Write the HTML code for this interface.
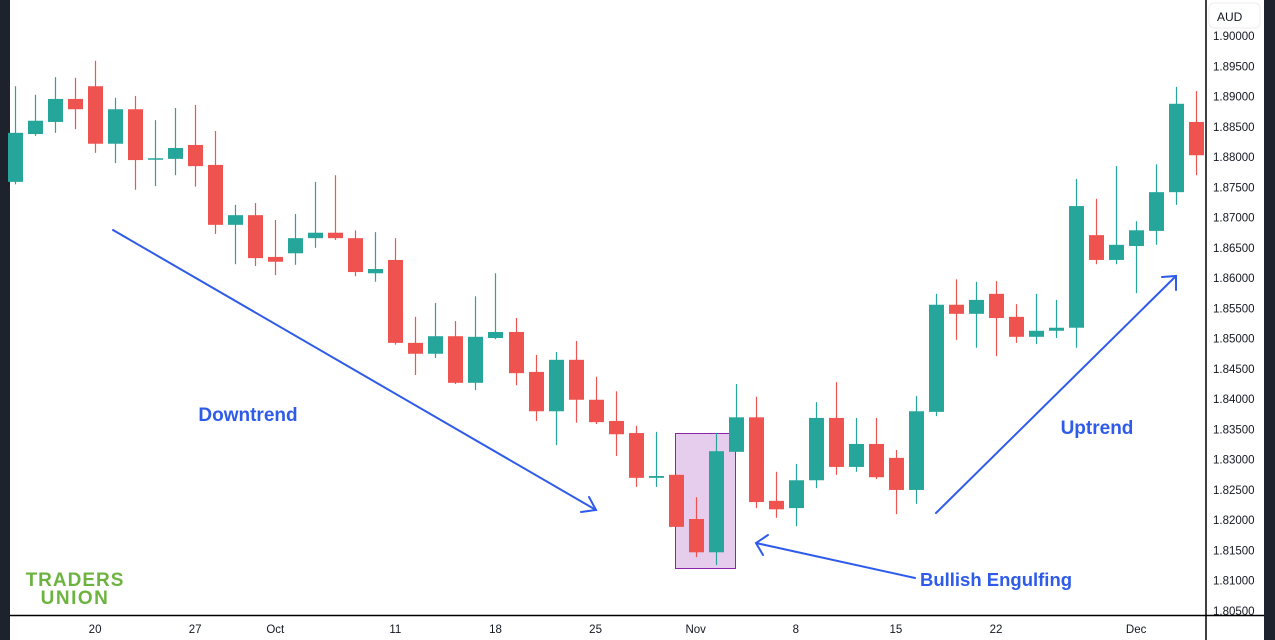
<!DOCTYPE html>
<html><head><meta charset="utf-8"><style>
html,body{margin:0;padding:0;background:#fff;}
svg{display:block;font-family:"Liberation Sans",sans-serif;}
</style></head><body>
<svg id="chart" width="1275" height="640" viewBox="0 0 1275 640">
<rect x="0" y="0" width="1275" height="640" fill="#fff"/>
<rect x="0" y="0" width="10" height="640" fill="#1e222d"/>
<rect x="1264" y="0" width="11" height="640" fill="#1e222d"/>
<rect x="675.5" y="433.5" width="60" height="135" fill="#e6cdee" stroke="#8e24aa" stroke-width="1"/>
<g id="candles"></g>
<g id="yaxis"></g>
<g id="xaxis"></g>
<line x1="1206" y1="0" x2="1206" y2="640" stroke="#000" stroke-width="1.5"/>
<line x1="10" y1="615.5" x2="1264" y2="615.5" stroke="#000" stroke-width="1.5"/>
<rect x="1209" y="3" width="51" height="25" rx="5" fill="#fff" stroke="#eee"/>
<text x="1217" y="21" font-size="12" fill="#131722">AUD</text>
<g id="ann" stroke="#2f5bea" stroke-width="2" fill="none" stroke-linecap="round">
<line x1="113" y1="230" x2="596" y2="510"/>
<polyline points="581,512 596,510 589,497"/>
<line x1="936" y1="513" x2="1176" y2="276"/>
<polyline points="1162,277 1176,276 1176,290"/>
<line x1="915" y1="578" x2="756" y2="543"/>
<polyline points="768,535 756,543 763,555"/>
</g>
<text x="248" y="421" font-size="19" font-weight="bold" fill="#2f5bea" text-anchor="middle">Downtrend</text>
<text x="1097" y="434" font-size="19" font-weight="bold" fill="#2f5bea" text-anchor="middle">Uptrend</text>
<text x="996" y="586" font-size="18.5" font-weight="bold" fill="#2f5bea" text-anchor="middle">Bullish Engulfing</text>
<text x="75" y="586" font-size="19" font-weight="bold" fill="#6db33f" text-anchor="middle" letter-spacing="1">TRADERS</text>
<text x="75" y="604" font-size="19" font-weight="bold" fill="#6db33f" text-anchor="middle" letter-spacing="1.5">UNION</text>
</svg>
<script>
const opens=[1.8759,1.8838,1.8858,1.8896,1.8917,1.8822,1.8879,1.8797,1.8797,1.8820,1.8787,1.8688,1.8704,1.8635,1.8641,1.8666,1.8675,1.8666,1.8608,1.8630,1.8493,1.8475,1.8504,1.8427,1.8501,1.8511,1.8445,1.8380,1.8465,1.8399,1.8364,1.8344,1.8270,1.8275,1.8202,1.8147,1.8313,1.8370,1.8232,1.8220,1.8266,1.8369,1.8288,1.8326,1.8303,1.8250,1.8379,1.8556,1.8541,1.8574,1.8536,1.8503,1.8513,1.8518,1.8671,1.8630,1.8653,1.8678,1.8742,1.8858];
const highs=[1.8917,1.8903,1.8932,1.8931,1.8959,1.8898,1.8901,1.8861,1.8881,1.8886,1.8843,1.8721,1.8724,1.8696,1.8706,1.8759,1.8770,1.8679,1.8676,1.8666,1.8536,1.8559,1.8529,1.8570,1.8608,1.8534,1.8473,1.8478,1.8496,1.8437,1.8413,1.8356,1.8346,1.8275,1.8238,1.8344,1.8425,1.8404,1.8280,1.8293,1.8395,1.8428,1.8369,1.8369,1.8316,1.8405,1.8574,1.8598,1.8594,1.8595,1.8557,1.8574,1.8564,1.8764,1.8731,1.8785,1.8694,1.8788,1.8916,1.8909];
const lows=[1.8755,1.8835,1.8840,1.8846,1.8807,1.8790,1.8746,1.8752,1.8770,1.8751,1.8673,1.8623,1.8620,1.8605,1.8622,1.8650,1.8663,1.8603,1.8594,1.8490,1.8440,1.8468,1.8425,1.8415,1.8499,1.8423,1.8364,1.8324,1.8361,1.8359,1.8306,1.8255,1.8255,1.8189,1.8139,1.8126,1.8313,1.8220,1.8204,1.8190,1.8253,1.8275,1.8280,1.8268,1.8210,1.8227,1.8372,1.8498,1.8485,1.8471,1.8493,1.8491,1.8501,1.8485,1.8623,1.8623,1.8575,1.8655,1.8721,1.8770];
const closes=[1.8840,1.8860,1.8896,1.8879,1.8822,1.8879,1.8795,1.8798,1.8815,1.8785,1.8688,1.8704,1.8633,1.8627,1.8666,1.8675,1.8666,1.8610,1.8615,1.8493,1.8475,1.8504,1.8427,1.8503,1.8511,1.8443,1.8380,1.8465,1.8399,1.8362,1.8342,1.8270,1.8273,1.8189,1.8147,1.8314,1.8370,1.8230,1.8218,1.8266,1.8369,1.8288,1.8326,1.8271,1.8250,1.8380,1.8556,1.8541,1.8564,1.8534,1.8503,1.8513,1.8518,1.8719,1.8630,1.8655,1.8679,1.8742,1.8888,1.8803];
const priceTicks=["1.90000","1.89500","1.89000","1.88500","1.88000","1.87500","1.87000","1.86500","1.86000","1.85500","1.85000","1.84500","1.84000","1.83500","1.83000","1.82500","1.82000","1.81500","1.81000","1.80500"];
const dateLabels=["20","27","Oct","11","18","25","Nov","8","15","22","Dec"];
const dateIndex=[4,9,13,19,24,29,34,39,44,49,56];

const NS="http://www.w3.org/2000/svg";
const yTop=1.9, yBot=1.805, pxTop=36, pxBot=611;
function y(v){return pxTop+(yTop-v)/(yTop-yBot)*(pxBot-pxTop);}
function x(i){return 15+i*20.02;}
function mk(tag,attrs,parent){const e=document.createElementNS(NS,tag);for(const k in attrs)e.setAttribute(k,attrs[k]);parent.appendChild(e);return e;}
const cg=document.getElementById('candles');
for(let i=0;i<opens.length;i++){
  const up=closes[i]>=opens[i];const col=up?'#26a69a':'#ef5350';
  const g=mk('g',{},cg);
  
  
  const cx=Math.round(x(i))+0.5;
  const w=mk('line',{x1:cx,x2:cx,y1:y(highs[i]),y2:y(lows[i]),stroke:col,'stroke-width':1.2},g);
  
  
  const t=y(Math.max(opens[i],closes[i])),b=y(Math.min(opens[i],closes[i]));
  const r=mk('rect',{x:cx-7.5,y:t,width:15,height:Math.max(b-t,1.5),fill:col},g);
  
  
}
const ya=document.getElementById('yaxis');
priceTicks.forEach(s=>{
  const t=mk('text',{x:1213,y:y(parseFloat(s))+4,'font-size':11.5,fill:'#131722'},ya);
  t.textContent=s;
  
  
});
const xa=document.getElementById('xaxis');
dateLabels.forEach((s,k)=>{
  const t=mk('text',{x:x(dateIndex[k]),y:633,'font-size':11.5,fill:'#131722','text-anchor':'middle'},xa);
  t.textContent=s;
  
  
});
</script>
</body></html>
